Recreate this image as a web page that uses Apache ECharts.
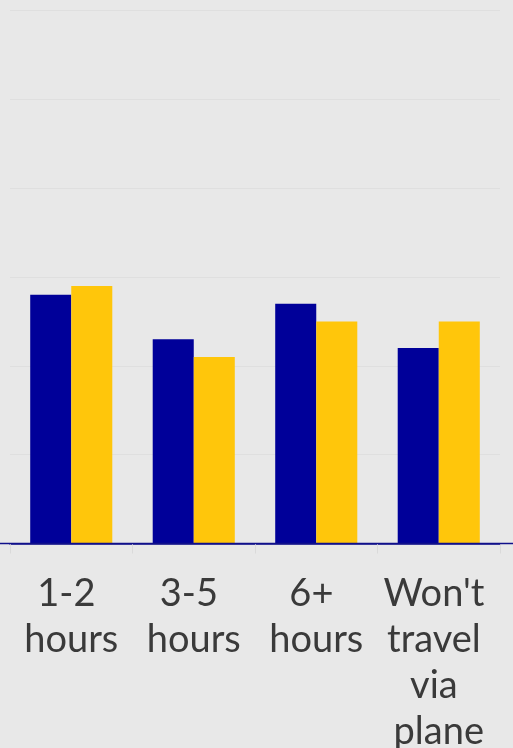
<!DOCTYPE html>
<html>
<head>
<meta charset="utf-8">
<script src="https://cdn.jsdelivr.net/npm/echarts@6/dist/echarts.min.js"></script>
<style>
html,body{margin:0;padding:0;background:#e8e8e8;}
#c{width:513px;height:748px;}
</style>
</head>
<body>
<div id="c"></div>
<script>
var categories = ["1-2 hours", "3-5 hours", "6+ hours", "Won't travel via plane"];
var seriesA = [28, 23, 27, 22];
var seriesB = [29, 21, 25, 25];
var yTicks = [0, 10, 20, 30, 40, 50, 60];

var chart = echarts.init(document.getElementById('c'), null, {renderer: 'canvas'});
chart.setOption({
  backgroundColor: '#e8e8e8',
  animation: false,
  grid: {left: 10, right: 13, top: 10.5, bottom: 204.5, containLabel: false, outerBoundsMode: 'none'},
  xAxis: {
    type: 'category',
    data: categories,
    axisLine: {lineStyle: {color: '#10108a', width: 1.5}},
    axisTick: {show: true, length: 10, lineStyle: {color: '#dadada', width: 1}},
    axisLabel: {
      interval: 0,
      margin: 27,
      color: '#3a3a3a',
      fontFamily: 'Lato',
      fontSize: 38,
      lineHeight: 46,
      width: 120,
      overflow: 'break',
      align: 'center'
    }
  },
  yAxis: {
    type: 'value',
    min: yTicks[0],
    max: yTicks[yTicks.length - 1],
    interval: 10,
    axisLabel: {show: false},
    axisLine: {show: false},
    axisTick: {show: false},
    splitLine: {lineStyle: {color: '#dfdfdf', width: 1}}
  },
  series: [
    {type: 'bar', data: seriesA, barGap: '0%', barCategoryGap: '33%', itemStyle: {color: '#000099'}},
    {type: 'bar', data: seriesB, barGap: '0%', barCategoryGap: '33%', itemStyle: {color: '#ffc60b'}}
  ]
});
// extend the category axis line across the full width, as in the reference
var axisY = chart.convertToPixel({yAxisIndex: 0}, 0);
chart.setOption({
  graphic: [{
    type: 'line',
    silent: true,
    z: 10,
    shape: {x1: 0, y1: axisY, x2: 513, y2: axisY},
    style: {stroke: '#10108a', lineWidth: 1.5}
  }]
});
</script>
</body>
</html>
